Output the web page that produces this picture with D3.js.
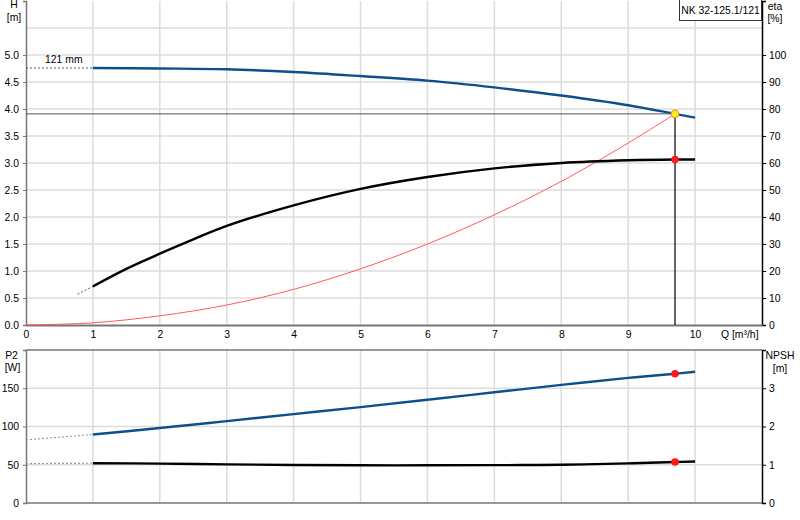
<!DOCTYPE html>
<html><head><meta charset="utf-8">
<script src="https://cdn.jsdelivr.net/npm/d3@7"></script>
<style>
html,body{margin:0;padding:0;background:#fff;}
svg{display:block;font-family:"Liberation Sans",Arial,sans-serif;}
</style></head>
<body>
<svg id="c" width="800" height="520"></svg>
<script>
// ---- data ----
const title = "NK 32-125.1/121";
const impellerLabel = "121 mm";
const xTicks = [0,1,2,3,4,5,6,7,8,9,10];
const hTicks = [0,0.5,1,1.5,2,2.5,3,3.5,4,4.5,5];
const etaTicks = [0,10,20,30,40,50,60,70,80,90,100];
const p2Ticks = [0,50,100,150];
const npshTicks = [0,1,2,3];

const qMain = [1,2,3,4,5,6,7,8,9,9.7,10];
const hVals = [4.76,4.75,4.735,4.685,4.61,4.525,4.40,4.25,4.07,3.91,3.84];
const hDotQ = [0,1];
const hDotV = [4.76,4.76];

const qEta = [1,1.5,2,2.5,3,4,5,6,7,8,9,9.7,10];
const etaVals = [14.3,20.8,26.4,31.7,36.7,44.3,50.4,54.8,58,60,61,61.3,61.3];
const etaDotQ = [0.77,1];
const etaDotV = [11.4,14.3];

const qSys = [0,1,2,3,4,5,6,7,8,9,9.7];
const hSys = [0,0.04,0.17,0.37,0.66,1.04,1.5,2.04,2.66,3.37,3.91];

const p2Vals = [89.5,98,107,116.2,125.4,135,144.7,154.4,163.5,169,171.5];
const p2DotQ = [0,1];
const p2DotV = [82.5,89.5];

const npshVals = [1.04,1.03,1.01,0.995,0.985,0.985,0.99,1.0,1.035,1.07,1.085];
const npshDotQ = [0,1];
const npshDotV = [1.03,1.04];

const opQ = 9.7, opH = 3.91, opEta = 61.3, opP2 = 169, opNpsh = 1.07;

// ---- scales ----
const svg = d3.select("#c");
const x = d3.scaleLinear().domain([0,11]).range([26,762]);
const yH = d3.scaleLinear().domain([0,6]).range([325,1]);
const yEta = d3.scaleLinear().domain([0,120]).range([325,1]);
const yP = d3.scaleLinear().domain([0,200]).range([503,350]);
const yN = d3.scaleLinear().domain([0,4]).range([503,350]);

const grid = "#dcdcdc";
const blue = "#0d4f8e";
const fs = 10.4;
const ff = "Liberation Sans, Arial, sans-serif";

// ---- grids ----
const gTop = svg.append("g");
gTop.selectAll("line.v").data(d3.range(1,11)).join("line")
  .attr("x1",d=>x(d)).attr("x2",d=>x(d)).attr("y1",yH(6)).attr("y2",yH(0))
  .attr("stroke",grid).attr("stroke-width",1.5);
gTop.selectAll("line.h").data(d3.range(1,12).map(d=>d*0.5)).join("line")
  .attr("x1",x(0)).attr("x2",x(11)).attr("y1",d=>yH(d)).attr("y2",d=>yH(d))
  .attr("stroke",grid).attr("stroke-width",1.5);

const gBot = svg.append("g");
gBot.selectAll("line.v").data(d3.range(1,11)).join("line")
  .attr("x1",d=>x(d)).attr("x2",d=>x(d)).attr("y1",yP(200)).attr("y2",yP(0))
  .attr("stroke",grid).attr("stroke-width",1.5);
gBot.selectAll("line.h").data([50,100,150]).join("line")
  .attr("x1",x(0)).attr("x2",x(11)).attr("y1",d=>yP(d)).attr("y2",d=>yP(d))
  .attr("stroke",grid).attr("stroke-width",1.5);

function styleText(g){ g.selectAll("text").attr("font-size",fs).attr("fill","#000").attr("font-family",ff); }

// ---- axes top panel ----
const axL = svg.append("g").attr("transform",`translate(${x(0)},0)`)
  .call(d3.axisLeft(yH).tickValues(hTicks).tickFormat(d3.format(".1f")).tickSize(3).tickPadding(4));
axL.select(".domain").attr("stroke","#777").attr("stroke-width",1.5);
axL.selectAll(".tick line").attr("stroke","#777");
styleText(axL);

const axR = svg.append("g").attr("transform",`translate(${x(11)},0)`)
  .call(d3.axisRight(yEta).tickValues(etaTicks).tickFormat(d3.format("d")).tickSize(4).tickPadding(3));
axR.select(".domain").attr("stroke","#000").attr("stroke-width",1.5);
styleText(axR);

const axB = svg.append("g").attr("transform",`translate(0,${yH(0)})`)
  .call(d3.axisBottom(x).tickValues(xTicks).tickFormat(d3.format("d")).tickSize(0).tickPadding(6));
axB.select(".domain").attr("stroke","#777").attr("stroke-width",2);
styleText(axB);

// ---- axes bottom panel ----
const axL2 = svg.append("g").attr("transform",`translate(${x(0)},0)`)
  .call(d3.axisLeft(yP).tickValues(p2Ticks).tickFormat(d3.format("d")).tickSize(3).tickPadding(4));
axL2.select(".domain").attr("stroke","#777").attr("stroke-width",1.5);
axL2.selectAll(".tick line").attr("stroke","#777");
styleText(axL2);

const axR2 = svg.append("g").attr("transform",`translate(${x(11)},0)`)
  .call(d3.axisRight(yN).tickValues(npshTicks).tickFormat(d3.format("d")).tickSize(4).tickPadding(3));
axR2.select(".domain").attr("stroke","#000").attr("stroke-width",1.5);
styleText(axR2);

svg.append("line").attr("x1",x(0)).attr("x2",x(11)).attr("y1",yP(200)).attr("y2",yP(200))
  .attr("stroke","#777").attr("stroke-width",1.5);
svg.append("line").attr("x1",x(0)).attr("x2",x(11)).attr("y1",yP(0)).attr("y2",yP(0))
  .attr("stroke","#777").attr("stroke-width",1.5);

// ---- axis titles ----
function label(t,xx,yy,anchor){
  svg.append("text").attr("x",xx).attr("y",yy).attr("font-size",fs).attr("font-family",ff)
    .attr("text-anchor",anchor||"middle").attr("fill","#000").text(t);
}
label("H",14,8); label("[m]",14,21);
label("eta",775,10); label("[%]",775,22);
label("P2",11.5,359); label("[W]",12.5,371);
label("NPSH",780,359); label("[m]",780,372);
svg.append("text").attr("x",721).attr("y",338).attr("font-size",fs).attr("font-family",ff).attr("fill","#000")
  .text("Q [m³/h]");

// ---- curves ----
const lineGen = (ys)=>d3.line().x(d=>x(d[0])).y(d=>ys(d[1])).curve(d3.curveCatmullRom.alpha(0.5));
const zip = (a,b)=>a.map((v,i)=>[v,b[i]]);

// dotted extensions
svg.append("path").datum(zip(hDotQ,hDotV)).attr("d",lineGen(yH))
  .attr("fill","none").attr("stroke","#445a80").attr("stroke-width",1).attr("stroke-dasharray","2,2");
svg.append("path").datum(zip(etaDotQ,etaDotV)).attr("d",lineGen(yEta))
  .attr("fill","none").attr("stroke","#555").attr("stroke-width",1).attr("stroke-dasharray","2,2");
svg.append("path").datum(zip(p2DotQ,p2DotV)).attr("d",lineGen(yP))
  .attr("fill","none").attr("stroke","#8090b0").attr("stroke-width",1).attr("stroke-dasharray","2,2");
svg.append("path").datum(zip(npshDotQ,npshDotV)).attr("d",lineGen(yN))
  .attr("fill","none").attr("stroke","#999").attr("stroke-width",1.2).attr("stroke-dasharray","2,2");

// system curve (red)
svg.append("path").datum(zip(qSys,hSys)).attr("d",lineGen(yH))
  .attr("fill","none").attr("stroke","#ff5a5a").attr("stroke-width",1);

// eta
svg.append("path").datum(zip(qEta,etaVals)).attr("d",lineGen(yEta))
  .attr("fill","none").attr("stroke","#000").attr("stroke-width",2.4);

// operating lines
svg.append("line").attr("x1",x(0)).attr("x2",x(opQ)).attr("y1",yH(opH)).attr("y2",yH(opH))
  .attr("stroke","#555").attr("stroke-width",1);
svg.append("line").attr("x1",x(opQ)).attr("x2",x(opQ)).attr("y1",yH(opH)).attr("y2",yH(0))
  .attr("stroke","#000").attr("stroke-width",1.2);

// H
svg.append("path").datum(zip(qMain,hVals)).attr("d",lineGen(yH))
  .attr("fill","none").attr("stroke",blue).attr("stroke-width",2.4);

// P2 and NPSH
svg.append("path").datum(zip(qMain,p2Vals)).attr("d",lineGen(yP))
  .attr("fill","none").attr("stroke",blue).attr("stroke-width",2.4);
svg.append("path").datum(zip(qMain,npshVals)).attr("d",lineGen(yN))
  .attr("fill","none").attr("stroke","#000").attr("stroke-width",2.4);

// points
svg.append("circle").attr("cx",x(opQ)).attr("cy",yEta(opEta)).attr("r",3.8).attr("fill","#ff1a1a");
svg.append("circle").attr("cx",x(opQ)).attr("cy",yH(opH)).attr("r",3.8)
  .attr("fill","#ffee22").attr("stroke","#f09a20").attr("stroke-width",1.2);
svg.append("circle").attr("cx",x(opQ)).attr("cy",yP(opP2)).attr("r",3.8).attr("fill","#ff1a1a");
svg.append("circle").attr("cx",x(opQ)).attr("cy",yN(opNpsh)).attr("r",3.8).attr("fill","#ff1a1a");

// impeller label
svg.append("text").attr("x",45).attr("y",63).attr("font-size",fs).attr("font-family",ff).attr("fill","#000").text(impellerLabel);

// title box
const tb = svg.append("g");
tb.append("rect").attr("x",679.5).attr("y",-1).attr("width",82).attr("height",21.5)
  .attr("fill","#fff").attr("stroke","#333").attr("stroke-width",1);
tb.append("text").attr("x",720.5).attr("y",14).attr("text-anchor","middle").attr("font-size",fs).attr("font-family",ff)
  .attr("fill","#000").text(title);
</script>
</body></html>
